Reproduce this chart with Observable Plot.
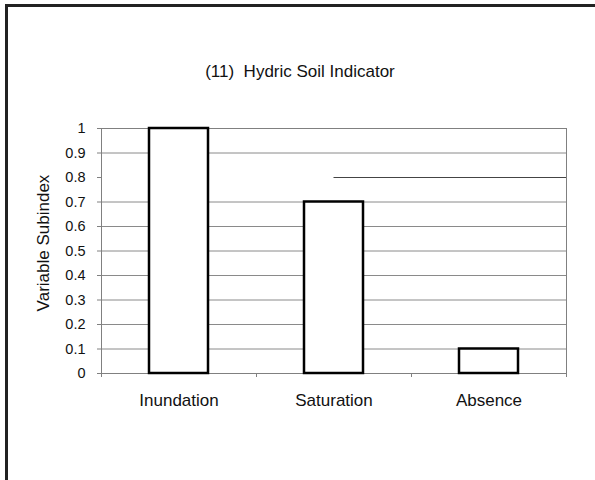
<!DOCTYPE html>
<html>
<head>
<meta charset="utf-8">
<script src="https://cdn.jsdelivr.net/npm/d3@7"></script>
<script src="https://cdn.jsdelivr.net/npm/@observablehq/plot@0.6"></script>
<style>
  body { margin: 0; background: #fff; }
  #wrap { position: relative; width: 595px; height: 480px; overflow: hidden; font-family: "Liberation Sans", Arial, sans-serif; background: #fff; }
  #border { position: absolute; left: 5px; top: 4px; width: 620px; height: 520px; border-top: 3px solid #222; border-left: 3px solid #222; box-sizing: border-box; }
  #title { position: absolute; left: 0; top: 62px; width: 600px; text-align: center; font-size: 17px; line-height: 20px; color: #111; white-space: pre; }
  #ylabel { position: absolute; left: -55.7px; top: 233px; width: 200px; height: 20px; line-height: 20px; text-align: center; font-size: 17px; color: #111; transform: rotate(-90deg); white-space: nowrap; }
  #chart { position: absolute; left: 0; top: 0; }
</style>
</head>
<body>
<div id="wrap">
  <div id="border"></div>
  <div id="chart"></div>
  <div id="title"></div>
  <div id="ylabel"></div>
</div>
<script>
const titleText = "(11)  Hydric Soil Indicator";
const yLabel = "Variable Subindex";
const categories = ["Inundation", "Saturation", "Absence"];
const values = [1, 0.7, 0.1];
const yTicks = [0, 0.1, 0.2, 0.3, 0.4, 0.5, 0.6, 0.7, 0.8, 0.9, 1];
// the 0.8 gridline in the source only runs from the middle of "Saturation" to the right edge
const partialGridValue = 0.8;
const partialGridFrom = "Saturation";

document.getElementById("title").textContent = titleText;
document.getElementById("ylabel").textContent = yLabel;

const data = categories.map((c, i) => ({category: c, value: values[i], i}));

const chart = Plot.plot({
  width: 595,
  height: 480,
  marginTop: 128,
  marginBottom: 107,
  marginLeft: 101,
  marginRight: 29,
  style: {fontFamily: "Liberation Sans, Arial, sans-serif", background: "transparent", color: "#111"},
  x: {domain: [0, categories.length], axis: null, label: null},
  y: {domain: [0, 1], axis: null, label: null},
  marks: [
    Plot.ruleY(yTicks.filter(d => d !== 0 && d !== partialGridValue), {stroke: "#8a8a8a", strokeWidth: 1}),
    Plot.ruleY([partialGridValue], {
      x1: categories.indexOf(partialGridFrom) + 0.5,
      x2: categories.length,
      stroke: "#444",
      strokeWidth: 1
    }),
    Plot.frame({stroke: "#808080"}),
    Plot.axisY({
      ticks: yTicks, tickSize: 4, tickPadding: 12,
      tickFormat: d3.format("~g"), fontSize: 14.5,
      stroke: "#808080", fill: "#111", label: null
    }),
    Plot.axisX({
      ticks: d3.range(categories.length + 1), tickSize: 4,
      tickFormat: () => "", stroke: "#808080", label: null
    }),
    Plot.axisX({
      ticks: categories.map((c, i) => i + 0.5), tickSize: 0, tickPadding: 20,
      tickFormat: d => categories[Math.floor(d)], fontSize: 17, fill: "#111", label: null
    }),
    Plot.rectY(data, {
      x1: "i", x2: d => d.i + 1, y: "value",
      insetLeft: 48, insetRight: 48,
      fill: "white", stroke: "black", strokeWidth: 2.5
    })
  ]
});
document.getElementById("chart").appendChild(chart);
</script>
</body>
</html>
